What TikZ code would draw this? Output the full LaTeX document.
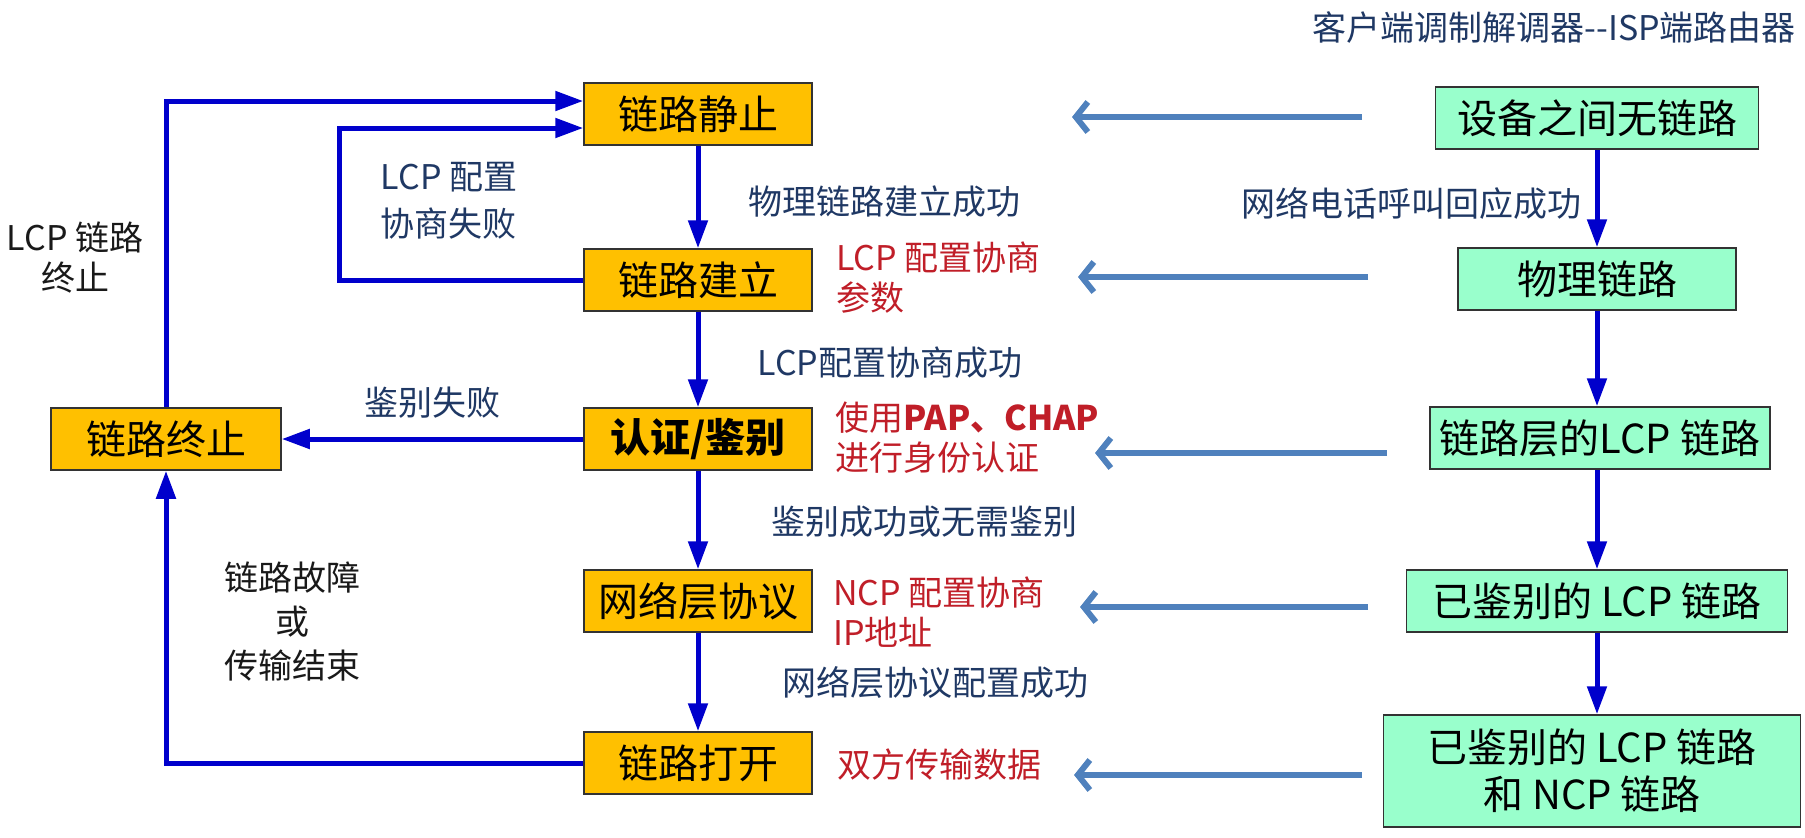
\documentclass[tikz,border=0pt]{standalone}
\usepackage{fontspec}
\setmainfont{Noto Sans CJK SC}
\usetikzlibrary{arrows.meta,positioning}
\definecolor{boxorange}{RGB}{255,192,0}
\definecolor{boxmint}{RGB}{153,255,204}
\definecolor{flowblue}{RGB}{0,0,204}
\definecolor{cfgsteel}{RGB}{79,129,189}
\definecolor{labnavy}{RGB}{31,56,100}
\definecolor{labred}{RGB}{192,30,40}

\begin{document}
\begin{tikzpicture}[
    x=1pt, y=-1pt,
    state/.style={rectangle, draw=black!80, line width=1.5pt, fill=boxorange, minimum width=228pt, minimum height=62pt, inner sep=0pt, font=\fontsize{40pt}{46pt}\selectfont},
    link/.style={rectangle, draw=black!80, line width=1.5pt, fill=boxmint, minimum height=62pt, inner sep=0pt, align=center, font=\fontsize{40pt}{47pt}\selectfont},
    flow/.style={-{Triangle[length=28pt,width=19pt]}, line width=5pt, flowblue},
    cfg/.style={-{Straight Barb[length=12pt,width=30pt]}, line width=6pt, cfgsteel},
    note/.style={font=\fontsize{34pt}{40pt}\selectfont, text=labnavy, inner sep=0pt, align=center},
    hint/.style={font=\fontsize{34pt}{40pt}\selectfont, text=labred, inner sep=0pt, align=left, anchor=west},
    remark/.style={font=\fontsize{34pt}{40pt}\selectfont, text=black!90, inner sep=0pt, align=center}
]
\useasboundingbox (0,0) rectangle (1805,838);

% ============ title ============
\node[note, anchor=east] (title) at (1796,28) {客户端调制解调器-{}-ISP端路由器};

% ============ PPP states ============
\node[state] (quiet)     at (698,114) {链路静止};
\node[state] (establish) at (698,280) {链路建立};
\node[state, font=\fontsize{40pt}{46pt}\selectfont\bfseries] (auth) at (698,439) {认证/鉴别};
\node[state] (netproto)  at (698,601) {网络层协议};
\node[state] (open)      at (698,763) {链路打开};
\node[state, minimum width=230pt] (term) at (166,439) {链路终止};

% ============ link status ============
\node[link, minimum width=323pt] (nolink)  at (1597,118) {设备之间无链路};
\node[link, minimum width=278pt] (phys)    at (1597,279) {物理链路};
\node[link, minimum width=340pt] (lcplink) at (1600,438) {链路层的LCP 链路};
\node[link, minimum width=381pt] (authlcp) at (1597,601) {已鉴别的 LCP 链路};
\node[link, minimum width=417pt, minimum height=112pt] (ncplink) at (1592,771) {已鉴别的 LCP 链路\\和 NCP 链路};

% ============ labels ============
\node[remark] (lab-lcpterm) at (75,258) {LCP 链路\\终止};
\node[note, align=left, font=\fontsize{34pt}{47pt}\selectfont] (lab-lcpfail) at (449,201) {LCP 配置\\协商失败};
\node[note] (lab-authfail) at (432,403) {鉴别失败};
\node[remark, font=\fontsize{34pt}{44pt}\selectfont] (lab-down) at (292,622) {链路故障\\或\\传输结束};

\node[note] (lab-phys)   at (884,202) {物理链路建立成功};
\node[note] (lab-lcpok)  at (890,363) {LCP配置协商成功};
\node[note] (lab-authok) at (924,522) {鉴别成功或无需鉴别};
\node[note] (lab-ncpok)  at (935,683) {网络层协议配置成功};
\node[note] (lab-call)   at (1411,203) {网络电话呼叫回应成功};

\node[hint] (hint-lcp)  at (836,278) {LCP 配置协商\\参数};
\node[hint] (hint-pap)  at (835,438) {使用\textbf{PAP、CHAP}\\进行身份认证};
\node[hint] (hint-ncp)  at (833,612) {NCP 配置协商\\IP地址};
\node[hint] (hint-data) at (837,765) {双方传输数据};

% ============ state flow ============
\draw[flow] (quiet) -- (establish);
\draw[flow] (establish) -- (auth);
\draw[flow] (auth) -- (netproto);
\draw[flow] (netproto) -- (open);
\draw[flow] (auth.west) -- (term.east);
\draw[flow] (open.west) -| (term.south);
\draw[flow] (term.north) |- ([yshift=13pt]quiet.west);
\draw[flow] (establish.west) -- ++(-244,0) |- ([yshift=-14pt]quiet.west);

\draw[flow] (nolink) -- (phys);
\draw[flow] (phys) -- (lcplink.north -| phys.south);
\draw[flow] (lcplink.south -| phys.south) -- (authlcp);
\draw[flow] (authlcp) -- (ncplink.north -| authlcp.south);

% ============ link to state ============
\coordinate (c1s) at (1362,117); \coordinate (c1t) at (1072,117);
\coordinate (c2s) at (1368,277); \coordinate (c2t) at (1078,277);
\coordinate (c3s) at (1387,453); \coordinate (c3t) at (1095,453);
\coordinate (c4s) at (1368,607); \coordinate (c4t) at (1080,607);
\coordinate (c5s) at (1362,775); \coordinate (c5t) at (1074,775);
\draw[cfg] (c1s) -- (c1t);
\draw[cfg] (c2s) -- (c2t);
\draw[cfg] (c3s) -- (c3t);
\draw[cfg] (c4s) -- (c4t);
\draw[cfg] (c5s) -- (c5t);

\end{tikzpicture}
\end{document}
